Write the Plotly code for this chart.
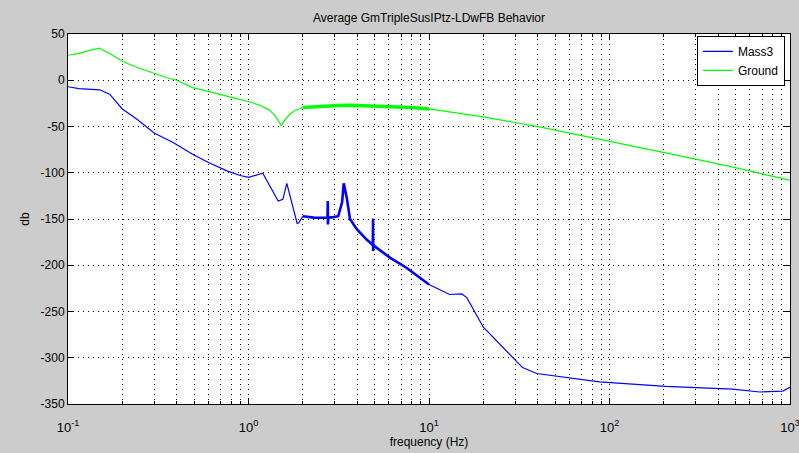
import plotly.graph_objects as go

# ---- data ----
# Ground (green), smooth low-resolution part below 2 Hz
ground_f_lo = [0.1, 0.115, 0.13, 0.149, 0.17, 0.2, 0.24, 0.296, 0.35, 0.40, 0.49, 0.6, 0.76, 0.9, 1.0, 1.16, 1.3, 1.4, 1.52, 1.6, 1.69, 1.8, 2.0]
ground_db_lo = [27, 29, 32, 34.6, 29, 20.5, 14, 7.5, 3, 0, -7.9, -12, -17.5, -21, -23, -27, -32, -38, -49, -42, -37, -33, -29.5]
# Ground, dense high-resolution band 2-10 Hz
ground_f_hr = [2.0, 2.5, 3.0, 3.66, 4.5, 5.5, 6.9, 8.0, 10.0]
ground_db_hr = [-29.5, -28, -27.5, -27, -27.5, -28, -28.5, -29.5, -31]
# Ground, smooth part above 10 Hz
ground_f_hi = [10.0, 13, 20, 41, 85, 197, 305, 470, 710, 1000]
ground_db_hi = [-31, -34, -39.5, -50.5, -63, -77.6, -85.5, -93.4, -101, -108]

# Mass3 (blue), low-resolution part below 2 Hz
mass_f_lo = [0.1, 0.115, 0.15, 0.17, 0.2, 0.24, 0.3, 0.38, 0.49, 0.6, 0.76, 0.9, 1.0, 1.1, 1.2, 1.46, 1.55, 1.63, 1.7, 1.86, 1.9, 2.0]
mass_db_lo = [-7, -9, -10.3, -15, -31, -42, -57, -67, -80, -89, -98, -103, -105, -103, -100.5, -130.6, -128.8, -111.5, -125, -154.8, -154, -147]
# Mass3, dense high-resolution band 2-10 Hz (with narrow lines)
mass_f_hr = [2.0, 2.3, 2.6, 2.74, 2.75, 2.755, 2.77, 2.95, 3.14, 3.3, 3.37, 3.5, 3.65, 3.98, 4.5, 4.88, 4.9, 4.905, 4.92, 6.1, 7.5, 10.0]
mass_db_hr = [-147, -148.5, -148.6, -148.5, -130.6, -155.8, -148.5, -148, -147, -132, -111.5, -126.6, -150, -161, -172, -178, -149.6, -184.7, -178.5, -192, -202.7, -220.8]
# Mass3, smooth part above 10 Hz
mass_f_hi = [10.0, 13, 15.2, 16.2, 20, 29, 33, 39.5, 88, 205, 480, 680, 912, 1000]
mass_db_hi = [-220.8, -231.6, -231, -235, -267, -300, -310.6, -317, -326, -331, -334, -337, -336, -332]

x_tickvals = [0.1, 1, 10, 100, 1000]
x_ticktext = ["10<sup>-1</sup>", "10<sup>0</sup>", "10<sup>1</sup>", "10<sup>2</sup>", "10<sup>3</sup>"]
y_tickvals = [50, 0, -50, -100, -150, -200, -250, -300, -350]
y_ticktext = ["50", "0", "-50", "-100", "-150", "-200", "-250", "-300", "-350"]

title_text = "Average GmTripleSusIPtz-LDwFB Behavior"
x_label = "frequency (Hz)"
y_label = "db"

BLUE = "#0000ff"
GREEN = "#00ff00"
FONT = "Liberation Sans, Arial, sans-serif"

minor_vals = [m * 10 ** e for e in (-1, 0, 1, 2) for m in range(2, 10)]

fig = go.Figure()
fig.add_trace(go.Scatter(x=mass_f_lo, y=mass_db_lo, mode="lines", name="Mass3",
                         line=dict(color=BLUE, width=1.2), legendgroup="m"))
fig.add_trace(go.Scatter(x=mass_f_hr, y=mass_db_hr, mode="lines", name="Mass3",
                         line=dict(color=BLUE, width=2.6), legendgroup="m", showlegend=False))
fig.add_trace(go.Scatter(x=mass_f_hi, y=mass_db_hi, mode="lines", name="Mass3",
                         line=dict(color=BLUE, width=1.2), legendgroup="m", showlegend=False))
fig.add_trace(go.Scatter(x=ground_f_lo, y=ground_db_lo, mode="lines", name="Ground",
                         line=dict(color=GREEN, width=1.2), legendgroup="g"))
fig.add_trace(go.Scatter(x=ground_f_hr, y=ground_db_hr, mode="lines", name="Ground",
                         line=dict(color=GREEN, width=3.5), legendgroup="g", showlegend=False))
fig.add_trace(go.Scatter(x=ground_f_hi, y=ground_db_hi, mode="lines", name="Ground",
                         line=dict(color=GREEN, width=1.2), legendgroup="g", showlegend=False))

fig.update_layout(
    width=799, height=453,
    margin=dict(l=68, r=9, t=34, b=49, autoexpand=False),
    paper_bgcolor="#cccccc",
    plot_bgcolor="#ffffff",
    font=dict(family=FONT, size=12, color="#000000"),
    title=dict(text=title_text, x=(68 + 790) / 2 / 799, xanchor="center",
               yref="container", y=1 - 18 / 453, yanchor="middle",
               font=dict(size=12, family=FONT, color="#000000")),
    showlegend=True,
    legend=dict(x=0.993, y=0.995, xanchor="right", yanchor="top",
                bgcolor="#ffffff", bordercolor="#000000", borderwidth=1,
                font=dict(size=12, family=FONT), traceorder="normal",
                tracegroupgap=0),
)

fig.update_xaxes(
    type="log", range=[-1, 3], automargin=False,
    tickmode="array", tickvals=x_tickvals, ticktext=x_ticktext,
    ticks="inside", ticklen=6, tickcolor="#000000",
    ticklabelstandoff=11, ticklabeloverflow="allow",
    showline=True, linecolor="#000000", linewidth=1, mirror="ticks",
    showgrid=True, gridcolor="#000000", gridwidth=1, griddash="1px,4px",
    minor=dict(tickvals=minor_vals, ticks="inside", ticklen=3, tickcolor="#000000",
               showgrid=True, gridcolor="#000000", gridwidth=1, griddash="1px,4px"),
    zeroline=False,
    tickfont=dict(size=13, family=FONT),
    title=dict(text=x_label, standoff=3, font=dict(size=12, family=FONT)),
)
fig.update_yaxes(
    range=[-350, 50], automargin=False,
    tickmode="array", tickvals=y_tickvals, ticktext=y_ticktext,
    ticks="inside", ticklen=6, tickcolor="#000000",
    showline=True, linecolor="#000000", linewidth=1, mirror="ticks",
    showgrid=True, gridcolor="#000000", gridwidth=1, griddash="1px,4px",
    zeroline=False,
    tickfont=dict(size=12, family=FONT),
    title=dict(text=y_label, standoff=8, font=dict(size=12, family=FONT)),
)

fig.write_html("out.html")
